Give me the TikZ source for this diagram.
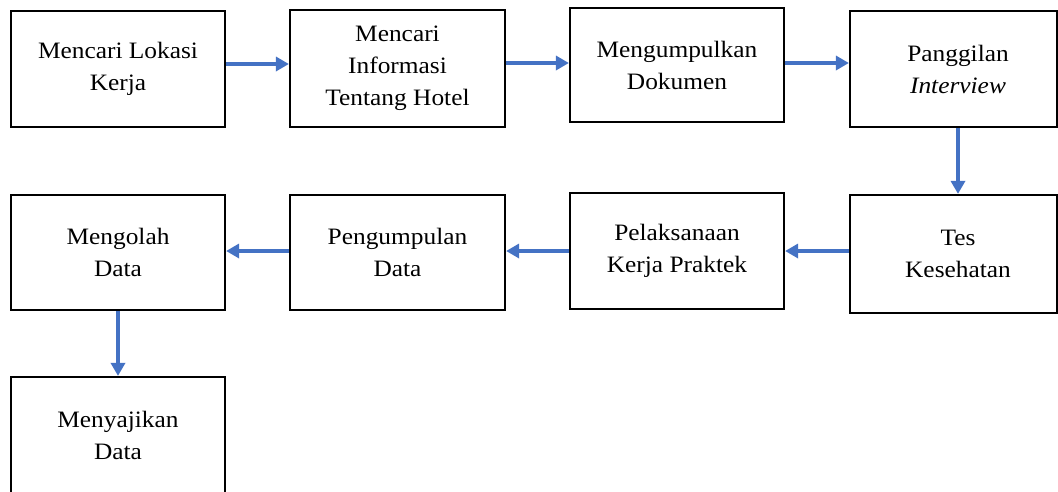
\documentclass[tikz,border=0pt]{standalone}
\usepackage{fontspec}
\setmainfont{Liberation Serif}[FakeStretch=1.08]
\usetikzlibrary{arrows.meta}
\definecolor{arrowblue}{HTML}{4472C4}
\tikzset{
  stepbox/.style={draw=black, line width=2.2pt, fill=white, align=center, inner sep=0pt,
    font=\fontsize{23.5}{32}\selectfont},
  flow/.style={draw=arrowblue, line width=3.4pt, -{Triangle[length=13pt,width=14pt]}}
}
\begin{document}
\begin{tikzpicture}[x=1pt,y=-1pt]
\useasboundingbox (0,0) rectangle (1058,491);
\node[stepbox, minimum width=214pt, minimum height=116pt] (p1) at (118,69) {Mencari Lokasi\\Kerja};
\node[stepbox, minimum width=215pt, minimum height=117pt] (p2) at (397.5,68.5) {Mencari\\Informasi\\Tentang Hotel};
\node[stepbox, minimum width=214pt, minimum height=114pt] (p3) at (677,65) {Mengumpulkan\\Dokumen};
\node[stepbox, minimum width=207pt, minimum height=116pt] (p4) at (953.5,69) {\hspace*{9pt}Panggilan\\\hspace*{9pt}\textit{Interview}};
\node[stepbox, minimum width=207pt, minimum height=118pt] (p8) at (953.5,254) {\hspace*{9pt}Tes\\\hspace*{9pt}Kesehatan};
\node[stepbox, minimum width=214pt, minimum height=116pt] (p7) at (677,251) {Pelaksanaan\\Kerja Praktek};
\node[stepbox, minimum width=215pt, minimum height=115pt] (p6) at (397.5,252.5) {Pengumpulan\\Data};
\node[stepbox, minimum width=214pt, minimum height=115pt] (p5) at (118,252.5) {Mengolah\\Data};
\node[stepbox, minimum width=214pt, minimum height=116pt] (p9) at (118,435) {Menyajikan\\Data};
\draw[flow] (p1.east |- 0,64) -- (p2.west |- 0,64);
\draw[flow] (p2.east |- 0,63) -- (p3.west |- 0,63);
\draw[flow] (p3.east |- 0,63) -- (p4.west |- 0,63);
\draw[flow] ([xshift=4.5pt]p4.south) -- ([xshift=4.5pt]p8.north);
\draw[flow] (p8.west |- 0,251) -- (p7.east |- 0,251);
\draw[flow] (p7.west |- 0,251) -- (p6.east |- 0,251);
\draw[flow] (p6.west |- 0,251) -- (p5.east |- 0,251);
\draw[flow] (p5.south) -- (p9.north);
\end{tikzpicture}
\end{document}
